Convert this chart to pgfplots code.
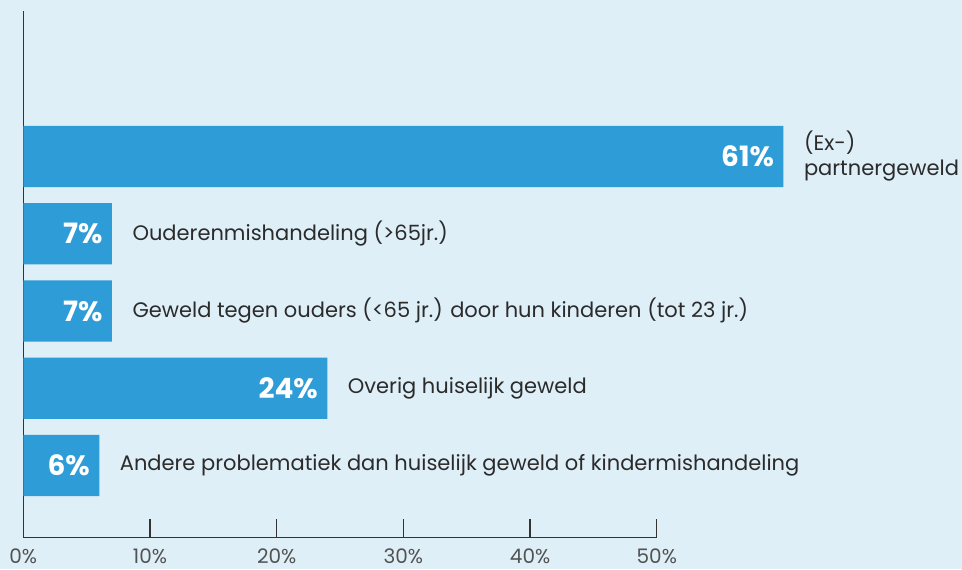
\documentclass[border=0pt]{standalone}
\usepackage{fontspec}
\setmainfont{Poppins}
\usepackage{pgfplots}
\pgfplotsset{compat=1.18}
\usetikzlibrary{backgrounds}
\definecolor{bgcol}{HTML}{DFEFF8}
\definecolor{barcol}{HTML}{2E9CD7}
\definecolor{axcol}{HTML}{333333}
\definecolor{txtcol}{HTML}{2B2B2B}
\begin{document}
\begin{tikzpicture}
\begin{axis}[
  scale only axis, width=633.5pt, height=527pt,
  xmin=0, xmax=50, ymin=-0.935, ymax=5.887,
  axis lines*=left,
  axis line style={axcol, line width=1.3pt},
  xtick={0,10,20,30,40,50},
  xticklabel={\pgfmathprintnumber{\tick}\%},
  /pgf/number format/assume math mode=true,
  ytick=\empty,
  tick align=inside, major tick length=19pt,
  tick style={axcol, line width=1.3pt},
  xticklabel style={font=\fontsize{20}{24}\selectfont, text=axcol!85, yshift=-8pt},
  clip=false,
]
\coordinate (bl) at (axis cs:-1.839,-1.340);
\coordinate (tr) at (axis cs:74.09,6.026);
\addplot[xbar, bar width=0.792, bar shift=0pt, fill=barcol, draw=none,
  point meta=explicit symbolic, nodes near coords,
  every node near coord/.append style={anchor=east, xshift=-6pt, text=white,
    font=\fontsize{28}{30}\selectfont\bfseries}]
  coordinates {(60,4) [61\%] (7,3) [7\%] (7,2) [7\%] (24,1) [24\%] (6,0) [6\%]};
\addplot[xbar, bar width=0.792, bar shift=0pt, fill=none, draw=none,
  point meta=explicit symbolic, nodes near coords,
  every node near coord/.append style={anchor=west, xshift=17pt, text=txtcol,
    align=left, font=\fontsize{21}{25}\selectfont}]
  coordinates {(60,4) [{(Ex-)\\partnergeweld}]
               (7,3) [Ouderenmishandeling (>65jr.)]
               (7,2) [Geweld tegen ouders (<65 jr.) door hun kinderen (tot 23 jr.)]
               (24,1) [Overig huiselijk geweld]
               (6,0) [Andere problematiek dan huiselijk geweld of kindermishandeling]};
\end{axis}
\begin{scope}[on background layer]
\fill[bgcol] (bl) rectangle (tr);
\end{scope}
\pgfresetboundingbox
\useasboundingbox (bl) rectangle (tr);
\end{tikzpicture}
\end{document}
